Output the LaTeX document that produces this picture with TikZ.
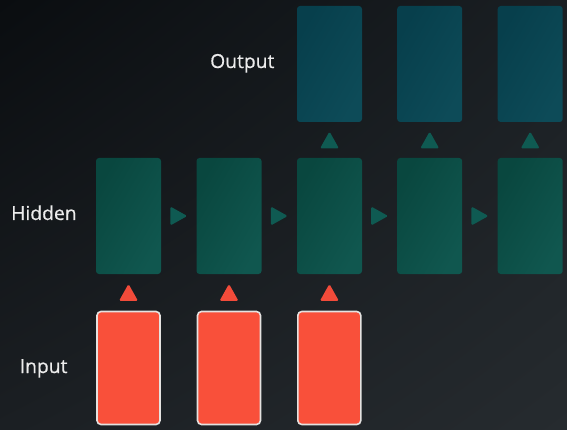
\documentclass[tikz,border=0pt]{standalone}
\usepackage{fontspec}
\setmainfont{Open Sans}
\usetikzlibrary{calc,shadings}
\definecolor{bgtl}{HTML}{0A0D10}
\definecolor{bgtr}{HTML}{1A1F23}
\definecolor{bgbl}{HTML}{1B1F23}
\definecolor{bgbr}{HTML}{262B2F}
\definecolor{outA}{HTML}{073F4C}
\definecolor{outB}{HTML}{0D4B58}
\definecolor{hidA}{HTML}{09473F}
\definecolor{hidB}{HTML}{10574F}
\definecolor{inred}{HTML}{F9503A}
\definecolor{inborder}{HTML}{E4E2E0}
\definecolor{tealtri}{HTML}{0F5A52}
\definecolor{redtri}{HTML}{F24B3A}
\definecolor{labeltext}{HTML}{ECECEC}
\tikzset{
  box/.style={minimum width=65pt, minimum height=116pt, inner sep=0pt, rounded corners=3pt},
  outbox/.style={box, left color=outA, right color=outB, shading angle=60},
  hidbox/.style={box, left color=hidA, right color=hidB, shading angle=60},
  inbox/.style={box, minimum width=63pt, minimum height=113pt, fill=inred, draw=inborder, line width=1.6pt, rounded corners=4pt},
  lbl/.style={anchor=base west, inner sep=0pt, text=labeltext, font=\fontsize{19.3}{21}\selectfont\addfontfeature{FakeBold=0.6}},
  tealfill/.style={fill=tealtri, rounded corners=1.5pt},
  redfill/.style={fill=redtri, rounded corners=1.5pt},
}
\begin{document}
\begin{tikzpicture}[x=1pt,y=-1pt]
\useasboundingbox (0,0) rectangle (567,430);
\shade[upper left=bgtl, upper right=bgtr, lower left=bgbl, lower right=bgbr] (0,0) rectangle (567,430);
% labels
\node[lbl] (lout) at (210,68) {Output};
\node[lbl] (lhid) at (11,220) {Hidden};
\node[lbl] (linp) at (19.5,373) {Input};
% boxes
\foreach \i/\x in {1/128.5,2/229,3/329.5,4/429.7,5/530.2}{
  \node[hidbox] (h\i) at (\x,216) {};
}
\foreach \i/\x in {3/329.5,4/429.7,5/530.2}{
  \node[outbox] (o\i) at (\x,64) {};
}
\foreach \i/\x in {1/128.5,2/229,3/329.3}{
  \node[inbox] (n\i) at (\x,368) {};
}
% hidden -> hidden triangles
\foreach \a/\b in {1/2,2/3,3/4,4/5}{
  \fill[tealfill] ($(h\a.east)!0.5!(h\b.west)$) ++(-8.5,-9.5) -- ++(17,9.5) -- ++(-17,9.5) -- cycle;
}
% hidden -> output triangles
\foreach \a in {3,4,5}{
  \fill[tealfill] ($(h\a.north)!0.5!(o\a.south)$) ++(-9.5,8.5) -- ++(9.5,-17) -- ++(9.5,17) -- cycle;
}
% input -> hidden triangles
\foreach \a in {1,2,3}{
  \fill[redfill] ($(n\a.north)!0.5!(h\a.south)$) ++(-9.5,8.5) -- ++(9.5,-17) -- ++(9.5,17) -- cycle;
}
\end{tikzpicture}
\end{document}
